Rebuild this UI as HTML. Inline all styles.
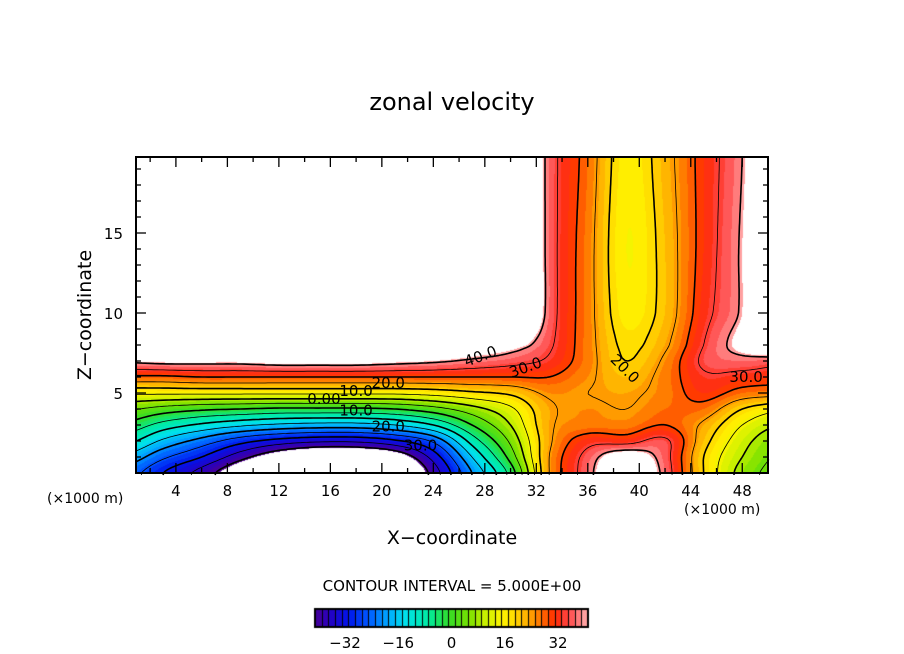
<!DOCTYPE html>
<html><head><meta charset="utf-8">
<style>
body{margin:0;background:#fff;width:904px;height:654px;overflow:hidden;position:relative;font-family:"DejaVu Sans","Liberation Sans",sans-serif;}
.t{position:absolute;color:#000;white-space:nowrap;}
canvas,svg{position:absolute;left:0;top:0;}
</style></head>
<body>
<div class="t" style="left:0;width:904px;text-align:center;top:88px;font-size:24px;">zonal velocity</div>
<canvas id="cv" width="904" height="654"></canvas>
<svg id="sv" width="904" height="654"></svg>
<div class="t" style="left:85px;top:315px;font-size:19px;transform:translate(-50%,-50%) rotate(-90deg);">Z−coordinate</div>
<div class="t" style="left:0;width:904px;text-align:center;top:527px;font-size:19px;">X−coordinate</div>
<div class="t" style="left:47px;top:491px;font-size:14px;">(×1000 m)</div>
<div class="t" style="left:684px;top:502px;font-size:14px;">(×1000 m)</div>
<div class="t" style="left:0;width:904px;text-align:center;top:577px;font-size:15px;">CONTOUR INTERVAL = 5.000E+00</div>
<script>
// ---- data ----
const xCoords=[0,3,6,9,12,15,18,21,24,27,30,33,36,39,42,45,48,51];
const zCoords=[0,1,2,3,4,5,6,7,8,10,14,20];
const row0=[-22,-30,-37,-46,-55,-60,-60,-52,-38,-20,-3,25,38,50,38,20,8,3];
const row1=[-16,-24,-30,-38,-45,-49,-49,-45,-33,-15,2,25,37,45,37,20,10,4];
const row2=[-8,-16,-22,-28,-32,-34,-34,-31,-24,-8,6,24,33,33,36,22,12,6];
const row3=[-1,-7,-11,-14,-16,-17,-17,-15,-10,0,10,24,27,27,30,24,15,10];
const row4=[6,3,1,0,-1,-1,-1,0,3,8,14,24,26,25,28,28,20,16];
const row5=[16,16,16,16,16,16,16,16,17,19,21,26,25,24,27,32,28,27];
const row6=[29,29,30,30,30,30,30,30,30,30,30,30,26,22,27,34,33,32];
const row7=[41,42,42,42,43,43,43,42,41,39,37,34,27,20,26,36,38,37];
const row8=[50,50,50,50,50,50,50,50,50,47,44,36,27,19,24,35,43,50];
const row10=[60,60,60,60,60,60,60,60,60,60,60,38,27,17,22,33,41,55];
const row14=[60,60,60,60,60,60,60,60,60,60,60,38,27,16,22,32,41,55];
const row20=[60,60,60,60,60,60,60,60,60,60,60,38,28,17,23,32,40,55];
const field=[row0,row1,row2,row3,row4,row5,row6,row7,row8,row10,row14,row20];
const xTicks=[4,8,12,16,20,24,28,32,36,40,44,48];
const zTicks=[5,10,15];
const cbTicks=[-32,-16,0,16,32];
const contourLevels=[-40,-35,-30,-25,-20,-15,-10,-5,0,5,10,15,20,25,30,35,40];
const contourLabels=[["40.0",27.8,7.0,-20],["30.0",31.3,6.3,-20],["20.0",20.5,5.3,0],["10.0",18,4.8,0],["0.00",15.5,4.3,0],["10.0",18,3.6,0],["20.0",20.5,2.6,0],["30.0",23,1.4,0],["20.0",38.6,6.3,45],["30.0",48.3,5.7,0]];

// ---- axes ----
const PL=136,PR=768,PT=157,PB=473;
const X0=0.9,X1=50,Z0=0,Z1=19.75;
const sx=x=>PL+(x-X0)/(X1-X0)*(PR-PL);
const sz=z=>PB-(z-Z0)/(Z1-Z0)*(PB-PT);
const ix=px=>X0+(px-PL)/(PR-PL)*(X1-X0);
const iz=py=>Z0+(PB-py)/(PB-PT)*(Z1-Z0);
function seg(arr,v){let i=0;while(i<arr.length-2&&v>arr[i+1])i++;return [i,Math.max(0,Math.min(1,(v-arr[i])/(arr[i+1]-arr[i])))];}
function cr(p0,p1,p2,p3,t){return 0.5*((2*p1)+(-p0+p2)*t+(2*p0-5*p1+4*p2-p3)*t*t+(-p0+3*p1-3*p2+p3)*t*t*t);}
const nX=xCoords.length,nZ=zCoords.length;
const F=(j,i)=>field[Math.max(0,Math.min(nZ-1,j))][Math.max(0,Math.min(nX-1,i))];
function val(x,z){const [i,fx]=seg(xCoords,x),[j,fz]=seg(zCoords,z);
 const r=[];for(let k=-1;k<=2;k++)r.push(cr(F(j+k,i-1),F(j+k,i),F(j+k,i+1),F(j+k,i+2),fx));
 return cr(r[0],r[1],r[2],r[3],fz);}
const stops=[[-41,[80,0,140]],[-36,[40,0,190]],[-30,[0,20,235]],[-24,[0,90,255]],[-18,[0,170,255]],[-13,[0,225,235]],[-6,[0,235,160]],[0,[50,220,40]],[6,[120,225,0]],[11,[200,240,0]],[16,[255,245,0]],[20,[255,215,0]],[24,[255,170,0]],[28,[255,110,0]],[32,[255,40,0]],[36,[255,70,70]],[41,[255,160,160]]];
function col(v){v=Math.floor(v/2)*2+1;for(let k=0;k<stops.length-1;k++){if(v<=stops[k+1][0]){const t=(v-stops[k][0])/(stops[k+1][0]-stops[k][0]);return stops[k][1].map((c,m)=>Math.round(c+(stops[k+1][1][m]-c)*Math.max(0,t)));}}return stops[stops.length-1][1];}
const cv=document.getElementById('cv'),ctx=cv.getContext('2d');
const W=PR-PL,H=PB-PT,img=ctx.createImageData(W,H);
for(let py=0;py<H;py++)for(let px=0;px<W;px++){const v=val(ix(PL+px+.5),iz(PT+py+.5));let c=[255,255,255];if(v>=-41&&v<=41)c=col(v);const o=(py*W+px)*4;img.data[o]=c[0];img.data[o+1]=c[1];img.data[o+2]=c[2];img.data[o+3]=255;}
ctx.putImageData(img,PL,PT);
// colorbar
const CBL=315,CBR=588,CBT=609,CBB=627,cbx=v=>CBL+(v+41)/82*(CBR-CBL);
for(let v=-41;v<41;v+=2){const c=col(v+1);ctx.fillStyle=`rgb(${c})`;ctx.fillRect(cbx(v),CBT,cbx(v+2)-cbx(v)+0.5,CBB-CBT);ctx.fillStyle='#000';ctx.fillRect(Math.round(cbx(v)),CBT,1,CBB-CBT);}
ctx.lineWidth=2;ctx.strokeStyle='#000';ctx.strokeRect(CBL,CBT,CBR-CBL,CBB-CBT);

// ---- overlay ----
const NS='http://www.w3.org/2000/svg',sv=document.getElementById('sv');
function mk(t,a,p){const e=document.createElementNS(NS,t);for(const k in a)e.setAttribute(k,a[k]);(p||sv).appendChild(e);return e;}
const st=3,nx=Math.ceil(W/st)+1,ny=Math.ceil(H/st)+1,G=[];
for(let j=0;j<ny;j++){G[j]=[];for(let i=0;i<nx;i++)G[j][i]=val(ix(PL+i*st),iz(PT+j*st));}
const gC=mk('g',{});


contourLevels.forEach(L=>{let d='';
 for(let j=0;j<ny-1;j++)for(let i=0;i<nx-1;i++){
  const a=G[j][i],b=G[j][i+1],c=G[j+1][i+1],e=G[j+1][i];const pts=[];
  const ed=(v1,v2,x1,y1,x2,y2)=>{if((v1<L)!==(v2<L)){const t=(L-v1)/(v2-v1);pts.push([x1+(x2-x1)*t,y1+(y2-y1)*t]);}};
  const X=PL+i*st,Y=PT+j*st;
  ed(a,b,X,Y,X+st,Y);ed(b,c,X+st,Y,X+st,Y+st);ed(e,c,X,Y+st,X+st,Y+st);ed(a,e,X,Y,X,Y+st);
  for(let k=0;k+1<pts.length;k+=2)d+=`M${pts[k][0].toFixed(1)},${pts[k][1].toFixed(1)}L${pts[k+1][0].toFixed(1)},${pts[k+1][1].toFixed(1)}`;}
 if(d){const p=mk('path',{d:d,fill:'none',stroke:'#000','stroke-width':L%10===0?1.6:0.8},gC);
  if(L<0)p.setAttribute('stroke-dasharray','5,3');
  
  }
});
contourLabels.forEach(l=>{const t=mk('text',{x:sx(l[1]),y:sz(l[2]),'font-size':15,'font-family':'DejaVu Sans, Liberation Sans, sans-serif','text-anchor':'middle',transform:`rotate(${l[3]} ${sx(l[1])} ${sz(l[2])})`});t.textContent=l[0];
 
 });
const fr=mk('rect',{x:PL,y:PT,width:PR-PL,height:PB-PT,fill:'none',stroke:'#000','stroke-width':2});


for(let x=2;x<=50;x+=2){const X=sx(x),len=x%4===0?10:5;
 mk('line',{x1:X,y1:PB,x2:X,y2:PB-len,stroke:'#000','stroke-width':1.3});mk('line',{x1:X,y1:PT,x2:X,y2:PT+len,stroke:'#000','stroke-width':1.3});}
for(let z=1;z<=19;z++){const Y=sz(z),len=z%5===0?10:5;
 mk('line',{x1:PL,y1:Y,x2:PL+len,y2:Y,stroke:'#000','stroke-width':1.3});mk('line',{x1:PR,y1:Y,x2:PR-len,y2:Y,stroke:'#000','stroke-width':1.3});}
xTicks.forEach(x=>{const t=mk('text',{x:sx(x),y:496,'font-size':15,'text-anchor':'middle','font-family':'DejaVu Sans, Liberation Sans, sans-serif'});t.textContent=x;
 
 });
zTicks.forEach(z=>{const t=mk('text',{x:123,y:sz(z)+6,'font-size':15,'text-anchor':'end','font-family':'DejaVu Sans, Liberation Sans, sans-serif'});t.textContent=z;
 
 });
cbTicks.forEach(v=>{const t=mk('text',{x:cbx(v),y:648,'font-size':15,'text-anchor':'middle','font-family':'DejaVu Sans, Liberation Sans, sans-serif'});t.textContent=v<0?'−'+(-v):v;
 
 });
</script>
</body></html>
